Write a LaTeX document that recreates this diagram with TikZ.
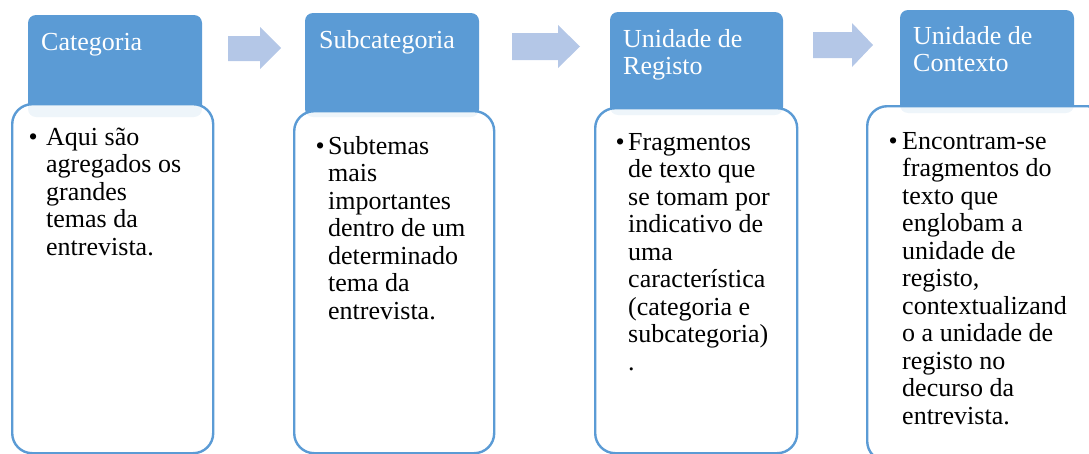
\documentclass[tikz,border=0pt]{standalone}
\usepackage{fontspec}
\setmainfont{Liberation Serif}
\definecolor{hdr}{HTML}{5B9BD5}
\definecolor{arr}{HTML}{B4C7E7}
\tikzset{
  hdrbox/.style={draw=none, fill=hdr, rounded corners=8pt, anchor=north west, inner sep=0pt, outer sep=0pt},
  bodybox/.style={draw=hdr, line width=2.4pt, fill=white, fill opacity=0.9, draw opacity=1, rounded corners=20pt, anchor=north west, inner sep=0pt},
  hdrtext/.style={anchor=base west, inner sep=0pt, text=white, font=\fontsize{26}{27.5}\selectfont},
  bodytext/.style={anchor=base west, inner sep=0pt, text=black, font=\fontsize{26}{27.5}\selectfont},
  blockarrow/.style={fill=arr, draw=none}
}
\newcommand{\lines}[1]{\parbox[t]{200pt}{\raggedright #1}}
\begin{document}
\begin{tikzpicture}[x=1pt,y=-1pt]
\useasboundingbox (0,0) rectangle (1089,453);
\clip (0,0) rectangle (1089,453);
% headers
\node[hdrbox, minimum width=174pt, minimum height=102pt] (h1) at (28,15) {};
\node[hdrbox, minimum width=174pt, minimum height=104pt] (h2) at (305,13) {};
\node[hdrbox, minimum width=173pt, minimum height=103pt] (h3) at (610,12) {};
\node[hdrbox, minimum width=174pt, minimum height=103pt] (h4) at (900,10) {};
% bodies
\node[bodybox, minimum width=201pt, minimum height=349pt] (b1) at (11,103) {};
\node[bodybox, minimum width=200pt, minimum height=342pt] (b2) at (293,110) {};
\node[bodybox, minimum width=202pt, minimum height=345pt] (b3) at (594,107) {};
\node[bodybox, minimum width=240pt, minimum height=355pt] (b4) at (866,105) {};
% header texts
\node[hdrtext] (t1) at (41,50) {\lines{Categoria}};
\node[hdrtext] (t2) at (319,48) {\lines{Subcategoria}};
\node[hdrtext] (t3) at (623,47) {\lines{Unidade de\\Registo}};
\node[hdrtext] (t4) at (913,44) {\lines{Unidade de\\Contexto}};
% bullets
\node[bodytext] (d1) at (28.5,145) {\textbullet};
\node[bodytext] (d2) at (315.5,154) {\textbullet};
\node[bodytext] (d3) at (615.5,150) {\textbullet};
\node[bodytext] (d4) at (888.5,149) {\textbullet};
% body texts
\node[bodytext] (x1) at (46,145) {\lines{Aqui são\\agregados os\\grandes\\temas da\\entrevista.}};
\node[bodytext] (x2) at (328,154) {\lines{Subtemas\\mais\\importantes\\dentro de um\\determinado\\tema da\\entrevista.}};
\node[bodytext] (x3) at (628,150) {\lines{Fragmentos\\de texto que\\se tomam por\\indicativo de\\uma\\característica\\(categoria e\\subcategoria)\\.}};
\node[bodytext] (x4) at (902,149) {\lines{Encontram-se\\fragmentos do\\texto que\\englobam a\\unidade de\\registo,\\contextualizand\\o a unidade de\\registo no\\decurso da\\entrevista.}};
% block arrows
\fill[blockarrow] (228,36) -- (260,36) -- (260,27) -- (281,48) -- (260,69) -- (260,61) -- (228,61) -- cycle;
\fill[blockarrow] (512,33) -- (558,33) -- (558,25) -- (580,46.5) -- (558,68) -- (558,60) -- (512,60) -- cycle;
\fill[blockarrow] (813,32) -- (852,32) -- (852,23) -- (873,45) -- (852,67) -- (852,58) -- (813,58) -- cycle;
\end{tikzpicture}
\end{document}
